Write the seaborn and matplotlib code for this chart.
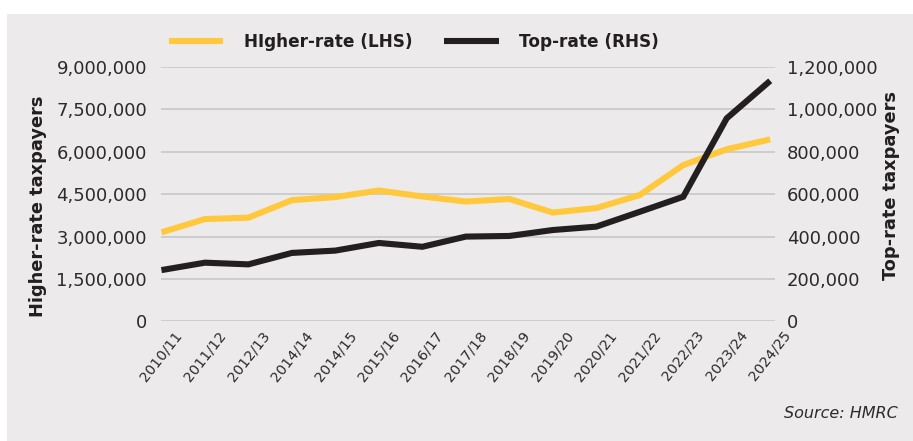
import numpy as np
import matplotlib
matplotlib.use("Agg")
import matplotlib.pyplot as plt
from matplotlib.patches import Rectangle
import seaborn as sns

# ---- data ----
years = ["2010/11", "2011/12", "2012/13", "2014/14", "2014/15", "2015/16", "2016/17",
         "2017/18", "2018/19", "2019/20", "2020/21", "2021/22", "2022/23", "2023/24", "2024/25"]
higher_rate = [3150000, 3620000, 3670000, 4290000, 4400000, 4630000, 4420000,
               4240000, 4330000, 3850000, 4010000, 4470000, 5530000, 6090000, 6440000]
top_rate = [242000, 277000, 269000, 323000, 334000, 370000, 352000,
            400000, 403000, 431000, 447000, 517000, 588000, 958000, 1135000]
left_ticks = [0, 1500000, 3000000, 4500000, 6000000, 7500000, 9000000]
right_ticks = [0, 200000, 400000, 600000, 800000, 1000000, 1200000]
series_names = ["HIgher-rate (LHS)", "Top-rate (RHS)"]

# ---- style ----
BG = "#ECEAEB"
YELLOW = "#FFC83D"
BLACK = "#231F20"
TXT = "#2B2B2B"
GRID = "#C8C8C8"

sns.set_style("white")
plt.rcParams["font.family"] = ["DejaVu Sans"]

W, H = 913, 441
fig = plt.figure(figsize=(W / 100, H / 100), dpi=100, facecolor="white")
fig.add_artist(Rectangle((7 / W, 0), 1 - 7 / W, 1 - 14 / H, transform=fig.transFigure,
                         facecolor=BG, edgecolor="none", zorder=-10))

ax = fig.add_axes([161 / W, 1 - 321.4 / H, 614 / W, 254.4 / H])
ax.set_facecolor("none")
ax2 = ax.twinx()
ax2.set_facecolor("none")

x = np.arange(len(years))
sns.lineplot(x=x, y=higher_rate, ax=ax, color=YELLOW, linewidth=4.4,
             label=series_names[0], legend=False)
sns.lineplot(x=x, y=top_rate, ax=ax2, color=BLACK, linewidth=4.4,
             label=series_names[1], legend=False)
for l in ax.get_lines() + ax2.get_lines():
    l.set_solid_capstyle("butt")
    l.set_solid_joinstyle("miter")

ax.set_xlim(-0.01, 14.11)
ax.set_ylim(0, 9000000)
ax2.set_ylim(0, 1200000)
ax.set_yticks(left_ticks)
ax2.set_yticks(right_ticks)
ax.set_yticklabels([f"{v:,}" for v in left_ticks])
ax2.set_yticklabels([f"{v:,}" for v in right_ticks])
ax.set_xticks(x)
ax.set_xticklabels(years, rotation=52, ha="center", va="top", fontsize=10.3, color=TXT)

ax.grid(axis="y", color=GRID, linewidth=1.2)
ax.grid(axis="x", visible=False)
ax2.grid(False)
for a in (ax, ax2):
    for s in a.spines.values():
        s.set_visible(False)
ax.tick_params(axis="y", length=0, pad=10, labelsize=13, labelcolor=TXT)
ax.tick_params(axis="x", length=0, pad=5)
ax2.tick_params(axis="y", length=0, pad=8.5, labelsize=13, labelcolor=TXT)

ax.set_xlabel("")
ax.set_ylabel("Higher-rate taxpayers", fontsize=12.8, fontweight="bold", color=BLACK)
ax.yaxis.label.set_verticalalignment("center")
ax.yaxis.set_label_coords((38.5 - 161) / 614, (321.4 - 206) / 254.4)
ax2.set_ylabel("Top-rate taxpayers", fontsize=12.8, fontweight="bold", color=BLACK,
               rotation=90)
ax2.yaxis.label.set_verticalalignment("center")
ax2.yaxis.set_label_coords((891 - 161) / 614, (321.4 - 185) / 254.4)

handles = ax.get_lines()[:1] + ax2.get_lines()[:1]
fs = 12.2
leg = fig.legend(handles, series_names, loc="center left",
                 bbox_to_anchor=(169 / W, 1 - 42 / H), bbox_transform=fig.transFigure,
                 ncol=2, frameon=False, borderpad=0, borderaxespad=0,
                 handlelength=3.2, handletextpad=1.2, columnspacing=1.9,
                 prop={"weight": "bold", "size": fs})
for t in leg.get_texts():
    t.set_color(BLACK)
for lh in leg.get_lines():
    lh.set_linewidth(4.4)

fig.text(898 / W, 1 - 413 / H, "Source: HMRC", ha="right", va="center",
         style="italic", fontsize=11.5, color=TXT)

fig.savefig("out.png", dpi=100, facecolor="white")
